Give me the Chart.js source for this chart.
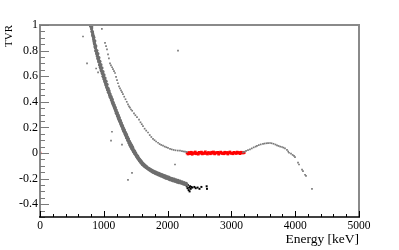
<!DOCTYPE html>
<html>
<head>
<meta charset="utf-8">
<script src="https://cdn.jsdelivr.net/npm/chart.js@4/dist/chart.umd.min.js"></script>
<style>
  html, body { margin: 0; padding: 0; background: #fff; }
  #c { display: block; }
</style>
</head>
<body>
<canvas id="c" width="399" height="250"></canvas>
<script>
// ---- axis ticks ----
const xTickValues = [0, 1000, 2000, 3000, 4000, 5000];
const yTickValues = [-0.4, -0.2, 0, 0.2, 0.4, 0.6, 0.8, 1];

// ---- main (dense) grey band: [Energy keV, TVR] ----
const mainBand = [
  [795,0.99],[803,1.00],[808,0.97],[815,0.95],[822,0.945],[828,0.92],[834,0.91],[840,0.89],[846,0.875],[852,0.86],
  [858,0.85],[863,0.83],[870,0.82],[876,0.80],[882,0.795],[889,0.78],[895,0.77],[902,0.755],[908,0.74],[915,0.73],
  [921,0.715],[928,0.71],[935,0.69],[941,0.685],[948,0.67],[955,0.66],[961,0.645],[968,0.64],[975,0.625],[982,0.62],
  [989,0.60],[996,0.595],[1003,0.58],[1010,0.575],[1017,0.56],[1024,0.55],[1031,0.54],[1038,0.53],[1045,0.515],[1052,0.51],
  [1060,0.495],[1067,0.49],[1074,0.475],[1082,0.47],[1090,0.455],[1097,0.445],[1105,0.435],[1112,0.43],[1120,0.415],[1128,0.41],
  [1136,0.395],[1143,0.385],[1151,0.375],[1159,0.37],[1167,0.355],[1175,0.345],[1183,0.335],[1191,0.325],[1199,0.31],[1207,0.305],
  [1215,0.29],[1223,0.285],[1231,0.27],[1240,0.26],[1248,0.25],[1256,0.245],[1265,0.23],[1273,0.22],[1281,0.21],[1290,0.205],
  [1298,0.19],[1307,0.18],[1315,0.17],[1324,0.165],[1332,0.15],[1341,0.14],[1350,0.135],[1358,0.12],[1367,0.115],[1376,0.10],
  [1385,0.095],[1394,0.08],[1403,0.075],[1412,0.06],[1421,0.055],[1430,0.045],[1440,0.035],[1449,0.03],[1458,0.02],[1468,0.01],
  [1477,0.005],[1487,-0.005],[1497,-0.01],[1507,-0.02],[1517,-0.03],[1528,-0.035],[1538,-0.045],[1549,-0.05],[1560,-0.06],[1571,-0.065],
  [1582,-0.075],[1594,-0.08],[1606,-0.09],[1618,-0.092],[1630,-0.1],[1643,-0.105],[1656,-0.11],[1670,-0.115],[1684,-0.12],[1698,-0.125],
  [1712,-0.13],[1727,-0.135],[1742,-0.14],[1757,-0.145],[1773,-0.15],[1789,-0.152],[1805,-0.158],[1822,-0.162],[1839,-0.165],[1856,-0.17],
  [1874,-0.172],[1892,-0.178],[1911,-0.18],[1930,-0.186],[1950,-0.19],[1970,-0.195],[1990,-0.198],[2011,-0.202],[2032,-0.208],[2054,-0.21],
  [2077,-0.215],[2100,-0.218],[2124,-0.222],[2148,-0.226],[2173,-0.23],[2198,-0.233],[2224,-0.237],[2250,-0.242],[2277,-0.246],[2305,-0.25],
  [810,0.985],[826,0.93],[842,0.905],[858,0.875],[874,0.835],[890,0.80],[906,0.775],[922,0.745],[938,0.715],[954,0.69],
  [970,0.665],[986,0.635],[1002,0.61],[1018,0.585],[1034,0.56],[1050,0.535],[1066,0.505],[1082,0.485],[1098,0.46],[1114,0.44],
  [1130,0.42],[1146,0.395],[1162,0.375],[1178,0.355],[1194,0.335],[1210,0.315],[1226,0.295],[1242,0.275],[1258,0.255],[1274,0.235],
  [1290,0.215],[1306,0.195],[1322,0.18],[1338,0.16],[1354,0.145],[1370,0.125],[1386,0.11],[1402,0.09],[1418,0.075],[1434,0.06],
  [1450,0.045],[1466,0.025],[1482,0.015],[1498,0.0],[1514,-0.015],[1530,-0.025],[1546,-0.04],[1562,-0.05],[1578,-0.06],[1594,-0.07],
  [1612,-0.082],[1630,-0.09],[1650,-0.1],[1670,-0.108],[1690,-0.116],[1710,-0.122],[1730,-0.128],[1750,-0.135],[1772,-0.14],[1794,-0.146],
  [1816,-0.15],[1840,-0.155],[1864,-0.16],[1888,-0.165],[1912,-0.17],[1938,-0.176],[1964,-0.18],[1990,-0.186],[2018,-0.19],[2046,-0.196],
  [2074,-0.2],[2104,-0.205],[2134,-0.21],[2164,-0.215],[2196,-0.22],[2228,-0.226],[2260,-0.232],[2292,-0.238]
];

// ---- upper (sparse) grey curve ----
const upperCurve = [
  [970,0.97],[1019,0.86],[1035,0.835],[1050,0.81],[1066,0.77],[1080,0.74],[1097,0.70],[1112,0.685],[1130,0.67],[1144,0.655],
  [1160,0.64],[1176,0.625],[1192,0.595],[1207,0.57],[1222,0.545],[1238,0.52],[1254,0.505],[1270,0.49],[1285,0.475],[1300,0.46],
  [1320,0.44],[1340,0.42],[1360,0.40],[1379,0.38],[1395,0.365],[1410,0.355],[1426,0.34],[1445,0.33],[1473,0.31],[1495,0.295],
  [1520,0.28],[1552,0.26],[1575,0.24],[1595,0.225],[1614,0.21],[1640,0.19],[1665,0.175],[1693,0.16],[1720,0.14],[1745,0.125],
  [1771,0.11],[1795,0.10],[1820,0.09],[1850,0.08],[1875,0.07],[1900,0.063],[1928,0.057],[1955,0.05],[1980,0.045],[2006,0.04],
  [2038,0.032],[2065,0.028],[2095,0.024],[2125,0.021],[2160,0.019],[2194,0.018],[2225,0.015],[2250,0.012],[2273,0.01],[2300,0.008],
  [3182,0.005],[3205,0.01],[3230,0.016],[3260,0.022],[3291,0.028],[3320,0.036],[3350,0.044],[3380,0.05],[3401,0.056],[3430,0.062],
  [3460,0.067],[3495,0.072],[3520,0.074],[3550,0.076],[3575,0.077],[3605,0.078],[3630,0.076],[3660,0.072],[3690,0.066],[3715,0.06],
  [3740,0.055],[3765,0.05],[3793,0.047],[3815,0.042],[3840,0.036],[3871,0.025],[3890,0.012],[3903,0.002],[3934,-0.005],[3960,-0.015],
  [3981,-0.022],[3997,-0.032],[4044,-0.075],[4060,-0.09],[4107,-0.13],[4122,-0.142],[4154,-0.17],[4169,-0.178],[4263,-0.28]
];

// ---- isolated grey points ----
const outliers = [
  [674,0.91],[737,0.70],[880,0.66],[910,0.63],[2163,0.80],[1113,0.097],[1128,0.166],[1285,0.065],[1379,-0.21],[1442,-0.155],[2116,-0.09]
];

// ---- red points ----
const redPoints = [
  [0,0],[2305,0.0],[2320,-0.008],[2338,0.004],[2352,-0.005],[2370,0.006],[2385,-0.01],[2400,0.002],[2418,-0.004],[2433,0.008],
  [2450,-0.006],[2466,0.0],[2480,-0.009],[2497,0.005],[2512,-0.002],[2530,0.007],[2545,-0.007],[2560,0.001],[2577,-0.004],[2592,0.009],
  [2610,-0.003],[2625,-0.008],[2640,0.004],[2657,0.0],[2672,-0.006],[2690,0.006],[2705,-0.002],[2720,0.008],[2737,-0.007],[2752,0.003],
  [2770,-0.001],[2785,0.005],[2800,-0.009],[2817,0.002],[2832,0.007],[2850,-0.004],[2865,0.001],[2880,-0.006],[2897,0.006],[2912,-0.002],
  [2930,0.004],[2945,-0.008],[2960,0.003],[2977,0.008],[2992,-0.003],[3010,0.0],[3025,-0.006],[3040,0.005],[3057,0.002],[3072,-0.004],
  [3090,0.007],[3105,-0.001],[3120,0.004],[3137,-0.005],[3152,0.006],[3170,0.002],[3185,0.0],[3200,0.003]
];

// ---- black points ----
const blackPoints = [
  [2300,-0.26],[2312,-0.275],[2320,-0.25],[2330,-0.29],[2338,-0.27],[2345,-0.30],[2352,-0.26],[2362,-0.28],[2372,-0.265],[2388,-0.27],
  [2420,-0.265],[2440,-0.275],[2470,-0.27],[2500,-0.28],[2530,-0.265],[2612,-0.26],[2617,-0.28]
];

const toXY = arr => arr.map(p => ({x: p[0], y: p[1]}));
const FONT = "'Liberation Serif', 'Times New Roman', serif";

const frameTicks = {
  id: 'frameTicks',
  afterDatasetsDraw(chart) {
    const {ctx, chartArea: a, scales: {x, y}} = chart;
    ctx.save();
    ctx.strokeStyle = '#8a8a8a';
    ctx.lineWidth = 2;
    ctx.beginPath();
    ctx.moveTo(a.left, a.bottom);
    ctx.lineTo(a.left, a.top);
    ctx.lineTo(a.right, a.top);
    ctx.lineTo(a.right, a.bottom);
    ctx.stroke();
    ctx.lineWidth = 1;
    ctx.strokeStyle = '#7a7a7a';
    for (let i = 0; i <= 30; i++) {
      const v = -0.5 + i * 0.05;
      const major = yTickValues.some(t => Math.abs(t - v) < 1e-6);
      const py = Math.round(y.getPixelForValue(v)) + 0.5;
      ctx.beginPath();
      ctx.moveTo(a.left, py);
      ctx.lineTo(a.left + (major ? 9 : 5), py);
      ctx.stroke();
    }
    ctx.strokeStyle = '#000';
    ctx.lineWidth = 1.5;
    ctx.beginPath();
    ctx.moveTo(a.left - 1, a.bottom);
    ctx.lineTo(a.right + 1, a.bottom);
    ctx.stroke();
    ctx.lineWidth = 1;
    for (let i = 0; i <= 25; i++) {
      const v = i * 200;
      const major = xTickValues.includes(v);
      const px = Math.round(x.getPixelForValue(v)) + 0.5;
      ctx.beginPath();
      ctx.moveTo(px, a.bottom);
      ctx.lineTo(px, a.bottom - (major ? 6 : 3));
      ctx.stroke();
    }
    ctx.restore();
  }
};

new Chart(document.getElementById('c'), {
  type: 'scatter',
  data: {
    datasets: [
      { data: toXY(upperCurve), backgroundColor: '#7a7a7a', pointRadius: 1.2, pointStyle: 'rect', borderWidth: 0 },
      { data: toXY(outliers), backgroundColor: '#7a7a7a', pointRadius: 1.2, pointStyle: 'rect', borderWidth: 0 },
      { data: toXY(mainBand), backgroundColor: '#6e6e6e', pointRadius: 1.7, borderWidth: 0 },
      { data: toXY(redPoints), backgroundColor: '#ff0000', pointRadius: 1.9, pointStyle: 'rect', borderWidth: 0 },
      { data: toXY(blackPoints), backgroundColor: '#000000', pointRadius: 1.4, pointStyle: 'rect', borderWidth: 0 }
    ]
  },
  options: {
    responsive: false,
    devicePixelRatio: 1,
    animation: false,
    events: [],
    layout: { padding: { top: 25, right: 40, bottom: 0, left: 0 } },
    plugins: { legend: { display: false }, tooltip: { enabled: false } },
    scales: {
      x: {
        type: 'linear', min: 0, max: 5000,
        grid: { display: false, drawTicks: false },
        border: { display: false },
        afterBuildTicks: s => { s.ticks = xTickValues.map(v => ({value: v})); },
        afterFit: s => { s.height = 33; },
        ticks: { color: '#000', font: { family: FONT, size: 11.5 }, padding: 2, maxRotation: 0, callback: v => String(v) },
        title: { display: true, text: 'Energy [keV]', align: 'end', color: '#000', font: { family: FONT, size: 13.5 }, padding: { top: 0, bottom: 2 } }
      },
      y: {
        type: 'linear', min: -0.5, max: 1,
        grid: { display: false, drawTicks: false },
        border: { display: false },
        afterBuildTicks: s => { s.ticks = yTickValues.map(v => ({value: v})); },
        afterFit: s => { s.width = 40; },
        ticks: { color: '#000', font: { family: FONT, size: 12 }, padding: 2, callback: v => String(Math.round(v * 10) / 10) },
        title: { display: true, text: 'TVR', align: 'end', color: '#000', font: { family: FONT, size: 11 }, padding: { top: 3, bottom: 0 } }
      }
    }
  },
  plugins: [frameTicks]
});
</script>
</body>
</html>
